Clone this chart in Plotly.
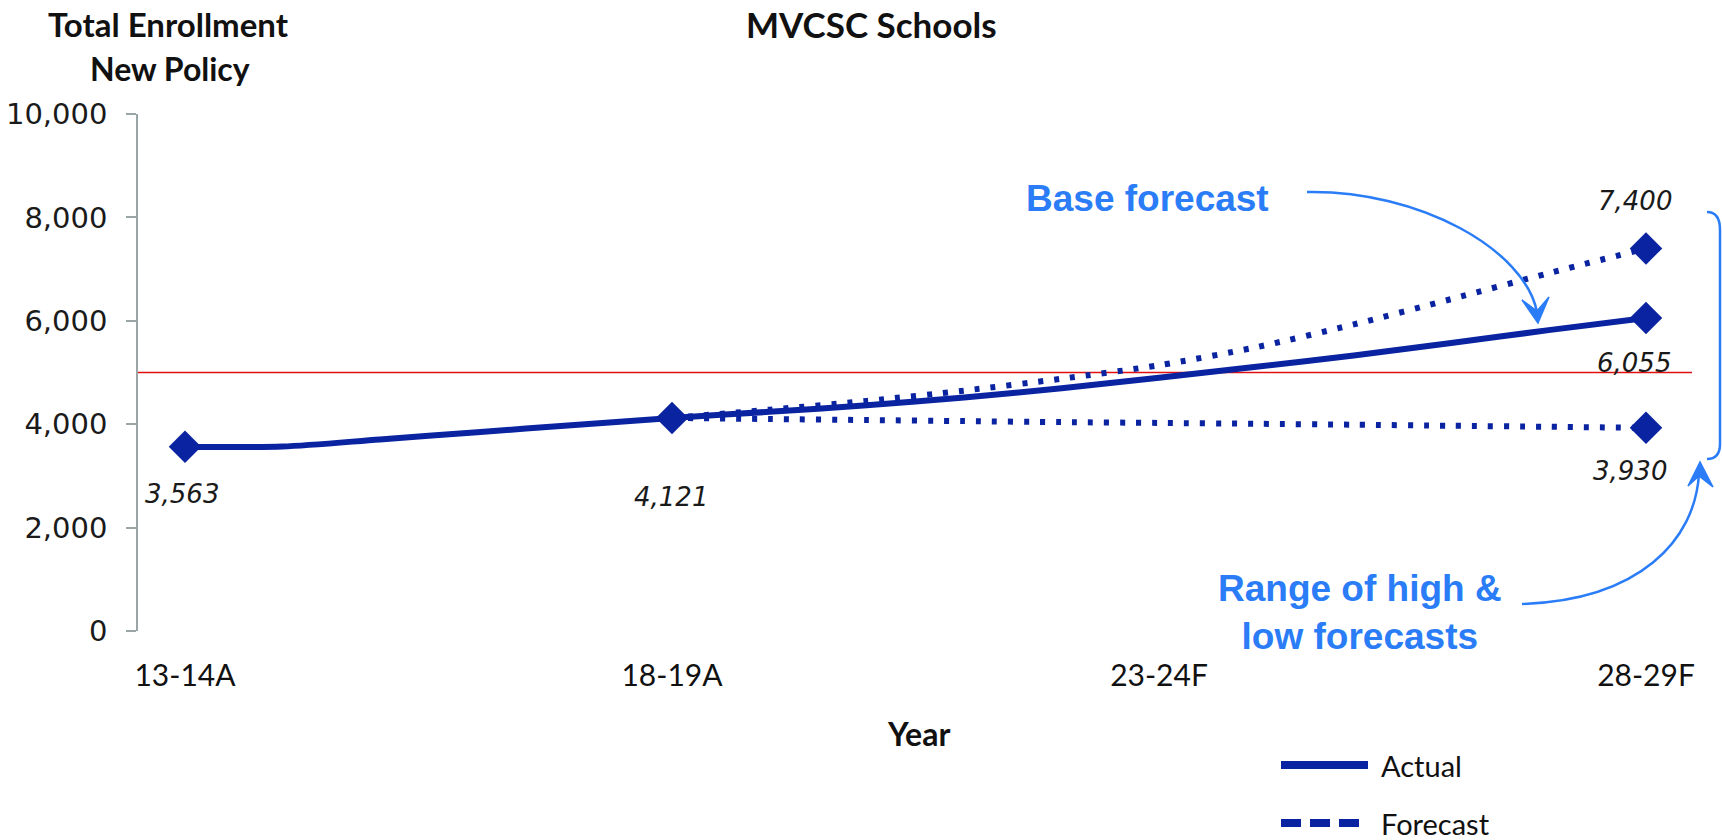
import plotly.graph_objects as go

# ---------------- data ----------------
years = ["13-14", "14-15", "15-16", "16-17", "17-18", "18-19", "19-20", "20-21",
         "21-22", "22-23", "23-24", "24-25", "25-26", "26-27", "27-28", "28-29"]
actual = [3563, 3568, 3705, 3845, 3985, 4121, 4240, 4365,
          4515, 4695, 4900, 5110, 5330, 5570, 5820, 6055]
forecast_years = ["18-19", "19-20", "20-21", "21-22", "22-23", "23-24",
                  "24-25", "25-26", "26-27", "27-28", "28-29"]
high_forecast = [4121, 4280, 4450, 4650, 4880, 5140, 5490, 5930, 6420, 6920, 7400]
low_forecast = [4121, 4100, 4080, 4060, 4040, 4025, 4008, 3990, 3970, 3950, 3930]
tick_years = ["13-14", "18-19", "23-24", "28-29"]
tick_labels = ["13-14A", "18-19A", "23-24F", "28-29F"]
actual_marker_years = ["13-14", "18-19", "28-29"]
target = 5000

# ---------------- styling ----------------
W, H = 1722, 840
L, R, T, B = 138, 1692, 114, 631
BLUE = "#0a23a0"
ANN = "#2a7cf7"


def xp(px):
    return (px - L) / (R - L)


def yp(py):
    return (B - py) / (B - T)


def P(px, py):
    return f"{xp(px):.5f},{yp(py):.5f}"


fig = go.Figure()

dot_line = dict(color=BLUE, width=6, dash="5px,11px", shape="spline", smoothing=0.8)
fig.add_trace(go.Scatter(x=forecast_years, y=high_forecast, mode="lines",
                         line=dot_line, hoverinfo="skip", showlegend=False))
fig.add_trace(go.Scatter(x=forecast_years, y=low_forecast, mode="lines",
                         line=dot_line, hoverinfo="skip", showlegend=False))
fig.add_trace(go.Scatter(x=years, y=actual, mode="lines",
                         line=dict(color=BLUE, width=6, shape="spline", smoothing=0.8),
                         showlegend=False))

idx = {y: i for i, y in enumerate(years)}
mk_x = actual_marker_years + [forecast_years[-1], forecast_years[-1]]
mk_y = [actual[idx[y]] for y in actual_marker_years] + [high_forecast[-1], low_forecast[-1]]
fig.add_trace(go.Scatter(x=mk_x, y=mk_y, mode="markers",
                         marker=dict(symbol="diamond", size=25, color=BLUE),
                         showlegend=False))

# data labels
label_font = dict(family="DejaVu Sans", size=26, color="#1a1a1a", style="italic")
label_specs = [
    (actual_marker_years[0], actual[idx[actual_marker_years[0]]], -3, -47),
    (actual_marker_years[1], actual[idx[actual_marker_years[1]]], -1, -79),
    (forecast_years[-1], high_forecast[-1], -11, 47),
    (forecast_years[-1], actual[-1], -12, -45),
    (forecast_years[-1], low_forecast[-1], -16, -43),
]
for xv, yv, dx, dy in label_specs:
    fig.add_annotation(x=xv, y=yv, text=f"{yv:,}", showarrow=False,
                       xshift=dx, yshift=dy, font=label_font,
                       xanchor="center", yanchor="middle")

# target line
fig.add_shape(type="line", xref="paper", x0=0, x1=1, yref="y", y0=target, y1=target,
              line=dict(color="#e01010", width=1.5), layer="below")

# titles
bold_font = dict(family="Lato", size=33, color="#111111", weight="bold")
fig.add_annotation(xref="paper", yref="paper", x=xp(871), y=yp(24), text="MVCSC Schools",
                   showarrow=False, font=dict(family="Lato", size=35, color="#111111", weight="bold"),
                   xanchor="center", yanchor="middle")
fig.add_annotation(xref="paper", yref="paper", x=xp(168), y=yp(24), text="Total Enrollment",
                   showarrow=False, font=bold_font, xanchor="center", yanchor="middle")
fig.add_annotation(xref="paper", yref="paper", x=xp(170), y=yp(68), text="New Policy",
                   showarrow=False, font=dict(family="Lato", size=32, color="#111111", weight="bold"),
                   xanchor="center", yanchor="middle")
fig.add_annotation(xref="paper", yref="paper", x=xp(918), y=yp(733), text="Year",
                   showarrow=False, font=dict(family="Lato", size=32, color="#111111", weight="bold"),
                   xanchor="center", yanchor="middle")

# blue callouts
ann_font = dict(family="Liberation Sans", size=37, color=ANN, weight="bold")
fig.add_annotation(xref="paper", yref="paper", x=xp(1147), y=yp(198), text="Base forecast",
                   showarrow=False, font=ann_font, xanchor="center", yanchor="middle")
fig.add_annotation(xref="paper", yref="paper", x=xp(1360), y=yp(612),
                   text="Range of high &amp;<br>low forecasts",
                   showarrow=False, font=ann_font, xanchor="center", yanchor="middle", align="center")

# arrow 1 (base forecast)
fig.add_shape(type="path", xref="paper", yref="paper",
              path=f"M{P(1307,192)} C{P(1420,190)} {P(1525,250)} {P(1537,312)}",
              line=dict(color=ANN, width=2.5))
fig.add_shape(type="path", xref="paper", yref="paper",
              path=f"M{P(1538,323)} L{P(1522,300)} L{P(1537,311)} L{P(1549,297)} Z",
              line=dict(color=ANN, width=1.5), fillcolor=ANN)
# arrow 2 (range)
fig.add_shape(type="path", xref="paper", yref="paper",
              path=f"M{P(1522,604)} C{P(1640,600)} {P(1695,540)} {P(1699,474)}",
              line=dict(color=ANN, width=2.5))
fig.add_shape(type="path", xref="paper", yref="paper",
              path=f"M{P(1700,462)} L{P(1688,486)} L{P(1699,476)} L{P(1713,487)} Z",
              line=dict(color=ANN, width=1.5), fillcolor=ANN)
# bracket
fig.add_shape(type="path", xref="paper", yref="paper",
              path=(f"M{P(1707,212)} C{P(1716,212)} {P(1720,218)} {P(1720,230)} "
                    f"L{P(1720,444)} C{P(1720,454)} {P(1716,459)} {P(1707,459)}"),
              line=dict(color=ANN, width=2.5))

# manual legend
fig.add_shape(type="line", xref="paper", yref="paper", x0=xp(1281), x1=xp(1368), y0=yp(765), y1=yp(765),
              line=dict(color=BLUE, width=8))
fig.add_shape(type="line", xref="paper", yref="paper", x0=xp(1281), x1=xp(1360), y0=yp(823), y1=yp(823),
              line=dict(color=BLUE, width=8, dash="20px,9px"))
leg_font = dict(family="Lato", size=29, color="#111111")
fig.add_annotation(xref="paper", yref="paper", x=xp(1379), y=yp(765), text="Actual",
                   showarrow=False, font=leg_font, xanchor="left", yanchor="middle")
fig.add_annotation(xref="paper", yref="paper", x=xp(1379), y=yp(823), text="Forecast",
                   showarrow=False, font=leg_font, xanchor="left", yanchor="middle")

fig.update_layout(
    width=W, height=H, autosize=False,
    margin=dict(l=L, r=W - R, t=T, b=H - B, pad=0, autoexpand=False),
    paper_bgcolor="white", plot_bgcolor="white",
    showlegend=False,
)
fig.update_xaxes(type="category", categoryorder="array", categoryarray=years,
                 range=[(L - 185) / 97.4, (R - 185) / 97.4], automargin=False,
                 tickmode="array", tickvals=tick_years, ticktext=tick_labels,
                 showline=False, showgrid=False, zeroline=False, ticks="",
                 tickfont=dict(family="Lato", size=30, color="#111111"),
                 ticklabelstandoff=24)
fig.update_yaxes(range=[0, 10000], dtick=2000, tickformat=",", automargin=False,
                 showline=True, linecolor="#9aa6a6", linewidth=1.5,
                 ticks="outside", ticklen=10, tickcolor="#9aa6a6", tickwidth=1.5,
                 showgrid=False, zeroline=False,
                 tickfont=dict(family="DejaVu Sans", size=29, color="#1a1a1a"),
                 ticklabelstandoff=13)

fig.write_html("out.html", config={"displayModeBar": False},
               post_script="document.body.style.margin='0';document.body.style.overflow='hidden';")
